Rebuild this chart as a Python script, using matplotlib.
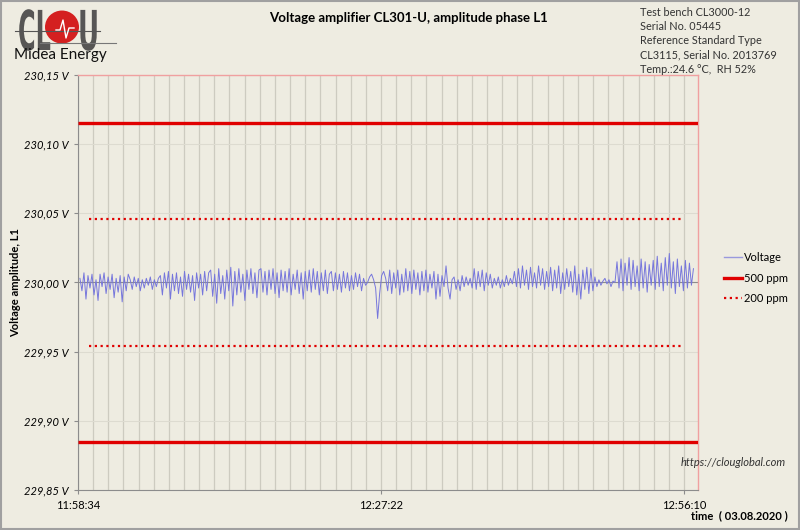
import matplotlib.pyplot as plt
from matplotlib.lines import Line2D
from matplotlib.patches import Ellipse, PathPatch, Rectangle
from matplotlib.textpath import TextPath
from matplotlib.transforms import Affine2D, IdentityTransform
from matplotlib.ticker import FixedLocator, FuncFormatter
import numpy as np

NOMINAL_V = 230.0
START_S = 11 * 3600 + 58 * 60 + 45  # first sample 11:58:45
END_S = 12 * 3600 + 57 * 60 + 4  # last sample 12:57:04

# deviation from nominal, in mV
deviation_mv = [
    3, -6, 7, -12, 5, -4, 6, -9, 2, -13, 6, -3, 7, -8, 4, -5, 6, -11, 3, -7, 5, -14, 4, -6, 6,
    2, -5, 4, -3, 3, -6, 2, -4, 3, -2, 4, -5, 2, -3, 3,
    5, -9, 7, -4, 8, -12, 6, -6, 7, -8, 4, -10, 8, -5, 6, -7, 5, -13, 7, -4, 6, -9, 8, -6, 7,
    9, -10, 6, -15, 10, -8, 5, -12, 9, -6, 11, -17, 8, -9, 10, -7, 6, -13, 9, -5, 10, -8, 7, -11, 9,
    10, -7, 8, -9, 9, -5, 10, -8, 7, -11, 9, -6, 8, -7, 10, -9, 6, -5, 9, -8, 7, -12, 8, -6, 9,
    -7, 10, -5, 8, -9, 7, -6, 9, -8, 6,
    8, -6, 7, -5, 6, -7, 8, -4, 7, -6, 5, -5, 7, -3, 6, -6, 3, -2, 0,
    4, 6, 2, -4, -26, -8, 5, 8, 3,
    -6, 9, -8, 7, -4, 9, -9, 6, -7, 10, -6, 8, -8, 9, -5, 7, -9, 8, -6, 9, -7, 6, -4,
    8, -12, 6, -10, 5, -3, 12, -4, -12, 2,
    4, -5, 2, -6, 5, -3, 4, -2, 3, -4,
    10, -5, 8, -3, 9, -6, 7, -2, 6, -4,
    3, -2, 4, -4, 2, -3, 5, -2, 3, -1,
    8, -3, 10, -4, 12, -2, 9, -5, 11, -3, 7, -4, 12, -2, 10, -5, 8, -3,
    11, -6, 9, -4, 12, -8, 7, -5, 10, -3, 8, -7, 12, -9, 6, -12, 9, -5, 11, -8, 10, -6, 4, -3, 2, -2, 1,
    3, -1, 2, -3, 1, 0,
    15, -4, 17, -6, 14, -2, 18, -5, 16, -3, 12, -6, 17, -4, 15, -7, 13, -2, 16, -5, 19, -3, 14, -6,
    18, -2, 21, -4, 15, -8, 17, -3, 12, -6, 16, -4, 14, -2, 10,
]

limit_ppm = [500, 200]
x_ticks_s = [11 * 3600 + 58 * 60 + 34, 12 * 3600 + 27 * 60 + 22, 12 * 3600 + 56 * 60 + 10]
y_ticks = [229.85, 229.90, 229.95, 230.00, 230.05, 230.10, 230.15]

info_lines = [
    "Test bench CL3000-12",
    "Serial No. 05445",
    "Reference Standard Type",
    "CL3115, Serial No. 2013769",
    "Temp.:24.6 °C,  RH 52%",
]

BG = "#eeece1"
plt.rcParams["font.family"] = ["Lato", "DejaVu Sans"]


def hms(s, _pos=None):
    s = int(round(s))
    return f"{s // 3600:02d}:{s % 3600 // 60:02d}:{s % 60:02d}"


def logo_letters(fig, text, x_px, base_px, sx, sy):
    # stretched glyph outline, drawn in pixel coordinates
    path = TextPath((0, 0), text, size=1, prop={"family": "DejaVu Sans", "weight": "bold"})
    tr = Affine2D().scale(sx, sy).translate(x_px, base_px) + IdentityTransform()
    fig.patches.append(PathPatch(path, transform=tr, facecolor="#3c3c3c", edgecolor="none",
                                 alpha=0.85, zorder=3))


t = np.linspace(START_S, END_S, len(deviation_mv))
volts = NOMINAL_V + np.array(deviation_mv) / 1000.0

fig = plt.figure(figsize=(8, 5.3), dpi=100, facecolor=BG)
ax = fig.add_axes([0.0975, 0.0755, 0.775, 0.783], facecolor=BG)

x_min = x_ticks_s[0]
x_max = x_ticks_s[0] + 3536
ax.set_xlim(x_min, x_max)
ax.set_ylim(229.85, 230.15)

# vertical grid every 1/20 of the major tick step
step = (x_ticks_s[1] - x_ticks_s[0]) / 20
ax.xaxis.set_major_locator(FixedLocator(x_ticks_s))
ax.set_xticks(np.arange(x_ticks_s[0], x_max, step), minor=True)
ax.xaxis.set_major_formatter(FuncFormatter(hms))
ax.grid(True, which="both", axis="x", color="#cdcbc0", linewidth=0.9)
ax.grid(True, which="major", axis="y", color="#dddbd0", linewidth=0.8)
ax.set_axisbelow(True)
ax.axhline(NOMINAL_V, color="#8c8c8c", linewidth=0.8, zorder=1)

ax.set_yticks(y_ticks)
ax.set_yticklabels([f"{v:.2f}".replace(".", ",") + " V" for v in y_ticks],
                   fontstyle="italic", fontsize=8)
for lbl in ax.get_xticklabels():
    lbl.set_fontsize(8)
ax.tick_params(axis="x", which="minor", length=0)
ax.tick_params(axis="both", which="major", length=3, color="#8c8c8c", pad=4)

for side in ("left", "bottom"):
    ax.spines[side].set_color("#8c8c8c")
for side in ("top", "right"):
    ax.spines[side].set_color("#f0a0a0")
    ax.spines[side].set_linewidth(1.0)

ax.plot(t, volts, color="#7676dc", linewidth=0.7, zorder=3)

ppm500 = limit_ppm[0] * 1e-6 * NOMINAL_V
ppm200 = limit_ppm[1] * 1e-6 * NOMINAL_V
for v in (NOMINAL_V + ppm500, NOMINAL_V - ppm500):
    ax.plot([x_min, x_max], [v, v], color="#e00000", linewidth=2.4, zorder=4,
            solid_capstyle="butt")
for v in (NOMINAL_V + ppm200, NOMINAL_V - ppm200):
    ax.plot([t[0] + 50, t[-1] - 60], [v, v], color="#e00000", linewidth=1.6,
            linestyle=(0, (1, 1.6)), zorder=4)

ax.set_ylabel("Voltage amplitude, L1", fontsize=8, fontweight="bold", labelpad=2)
fig.text(0.51, 0.966, "Voltage amplifier CL301-U, amplitude phase L1",
         ha="center", va="center", fontsize=9.5, fontweight="bold")
fig.text(0.985, 0.016, "time  ( 03.08.2020 )", ha="right", va="bottom",
         fontsize=8, fontweight="bold")
fig.text(0.982, 0.128, "https://clouglobal.com", ha="right", va="center",
         fontsize=8, fontstyle="italic", color="#333333")

for i, line in enumerate(info_lines):
    fig.text(0.8, 0.977 - i * 0.0268, line, ha="left", va="center", fontsize=7.8,
             color="#333333")

# logo
fig.patches.append(Ellipse((0.0775, 0.949), 34 / 800, 33 / 530, transform=fig.transFigure,
                           facecolor="#d42020", edgecolor="none", zorder=2))
logo_letters(fig, "CL", 18, 480, 24, 55)
logo_letters(fig, "U", 78, 480, 26, 55)
fig.add_artist(Line2D([15 / 800, 100 / 800], [1 - 31 / 530] * 2, transform=fig.transFigure,
                      color="#555555", linewidth=0.8, zorder=4))
fig.add_artist(Line2D([40 / 800, 116 / 800], [1 - 43 / 530] * 2, transform=fig.transFigure,
                      color="#777777", linewidth=0.8, zorder=4))
fig.add_artist(Line2D([56 / 800, 60 / 800, 63 / 800, 66 / 800, 69 / 800, 74 / 800],
                      [1 - 30 / 530, 1 - 30 / 530, 1 - 20 / 530, 1 - 38 / 530,
                       1 - 28 / 530, 1 - 28 / 530],
                      transform=fig.transFigure, color="white", linewidth=1.0, zorder=5))
fig.text(0.018, 0.897, "Midea Energy", ha="left", va="center", fontsize=11,
         color="#111111", zorder=6)

legend_handles = [
    Line2D([], [], color="#9999dd", linewidth=1.0),
    Line2D([], [], color="#e00000", linewidth=2.4),
    Line2D([], [], color="#e00000", linewidth=1.6, linestyle=(0, (1, 1.6))),
]
fig.legend(legend_handles, ["Voltage", "500 ppm", "200 ppm"], loc="center left",
           bbox_to_anchor=(0.893, 0.475), frameon=False, fontsize=8,
           handlelength=1.6, handletextpad=0.2, labelspacing=0.85)

fig.patches.append(Rectangle((0.001, 0.001), 0.998, 0.998, transform=fig.transFigure,
                             fill=False, edgecolor="#a0a0a0", linewidth=1.5))

fig.savefig("out.png", dpi=100, facecolor=BG)
